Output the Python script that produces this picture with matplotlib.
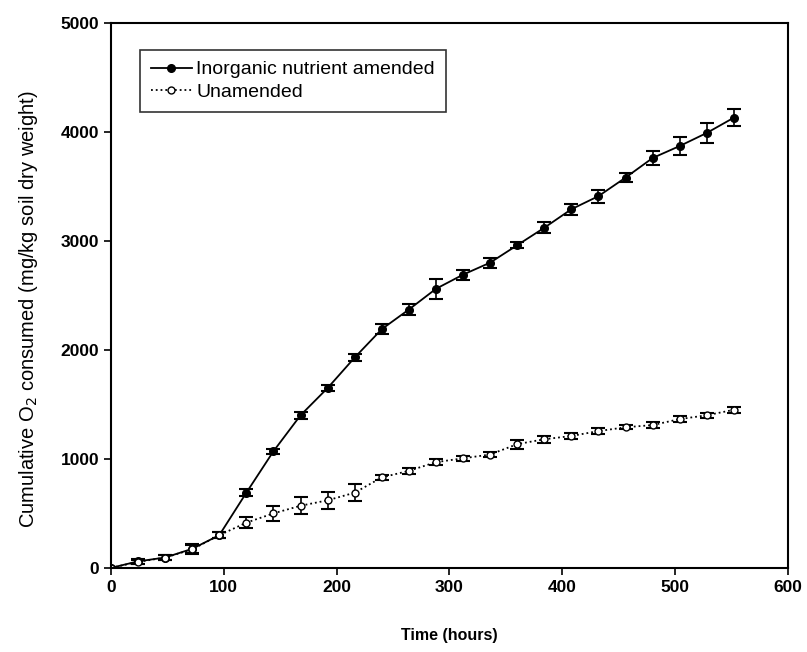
import matplotlib
matplotlib.use('Agg')
import matplotlib.pyplot as plt

plt.rcParams['font.family'] = ['Liberation Sans', 'DejaVu Sans']

# Sampling times (hours)
hours = [0, 24, 48, 72, 96, 120, 144, 168, 192, 216, 240, 264, 288, 312,
         336, 360, 384, 408, 432, 456, 480, 504, 528, 552]

# Cumulative O2 consumed, mg/kg soil dry weight
amended = [0, 60, 95, 175, 300, 690, 1070, 1400, 1650, 1930, 2190, 2370,
           2560, 2690, 2800, 2960, 3120, 3290, 3410, 3580, 3760, 3870,
           3990, 4130]
amended_err = [0, 20, 20, 40, 30, 30, 25, 30, 30, 35, 45, 50, 90, 45, 45,
               30, 50, 50, 60, 40, 60, 80, 90, 75]

unamended = [0, 55, 95, 170, 300, 415, 500, 570, 620, 690, 830, 890, 970,
             1005, 1040, 1135, 1180, 1210, 1255, 1290, 1310, 1365, 1400,
             1450]
unamended_err = [0, 20, 20, 40, 30, 50, 70, 80, 80, 80, 20, 30, 30, 20, 25,
                 40, 30, 25, 25, 20, 25, 30, 25, 30]

fig = plt.figure(figsize=(8.07, 6.52), dpi=100)
ax = fig.add_axes([0.1375, 0.129, 0.839, 0.836])

eb1 = ax.errorbar(hours, amended, yerr=amended_err, color='black', linestyle='-',
                  linewidth=1.3, marker='o', markersize=5.5, markerfacecolor='black',
                  capsize=5, capthick=1.5, elinewidth=1.2)
eb2 = ax.errorbar(hours, unamended, yerr=unamended_err, color='black', linestyle=':',
                  linewidth=1.3, marker='o', markersize=5, markerfacecolor='white',
                  capsize=5, capthick=1.5, elinewidth=1.2)

ax.set_xlim(0, 600)
ax.set_ylim(0, 5000)
ax.set_xticks(range(0, 601, 100))
ax.set_yticks(range(0, 5001, 1000))
ax.tick_params(direction='out', length=5, width=1.2, labelsize=12.5)
for lbl in ax.get_xticklabels() + ax.get_yticklabels():
    lbl.set_fontweight('bold')
for s in ax.spines.values():
    s.set_linewidth(1.5)

ax.set_xlabel('Time (hours)', fontsize=11.5, fontweight='bold', labelpad=24)
ax.set_ylabel('Cumulative O$_2$ consumed (mg/kg soil dry weight)', fontsize=14.5)
ax.yaxis.set_label_coords(-0.105, 0.474)

# legend shows only the line + marker, no error bars
leg = ax.legend([eb1[0], eb2[0]], ['Inorganic nutrient amended', 'Unamended'],
                loc='upper left', bbox_to_anchor=(0.043, 0.95), borderaxespad=0,
                fontsize=14, frameon=True, fancybox=False, edgecolor='black',
                handlelength=2.1, handletextpad=0.25, borderpad=0.55,
                labelspacing=0.25)
leg.get_frame().set_linewidth(1.2)

fig.savefig('out.png', dpi=100)
